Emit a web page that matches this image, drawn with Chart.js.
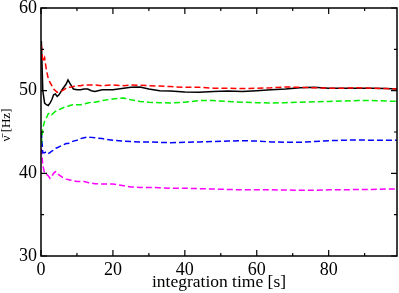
<!DOCTYPE html>
<html><head><meta charset="utf-8">
<script src="https://cdn.jsdelivr.net/npm/chart.js@4/dist/chart.umd.min.js"></script>
<style>html,body{margin:0;padding:0;background:#fff}#wrap{width:399px;height:293px}</style>
</head><body><div id="wrap"><canvas id="c"></canvas></div>
<script>
const times = [0.1,0.5,1,1.5,2,2.5,3,3.5,4,4.5,5,6,7,7.5,8,9,10,11,12,13,14,15,17,20,23,25,27.5,30,33,36,40,44,48,52,56,60,64,68,72,76,80,84,88,92,96,99];
const redVals = [55.5,53.5,54,52.5,51.5,51,50.6,50.2,50,49.8,49.9,50,50.3,50.4,50.4,50.5,50.6,50.6,50.7,50.7,50.7,50.7,50.6,50.7,50.6,50.7,50.65,50.6,50.55,50.5,50.4,50.4,50.3,50.3,50.25,50.3,50.35,50.45,50.4,50.35,50.3,50.3,50.35,50.3,50.25,50.2];
const blackVals = [56,50,48.5,48.3,48.2,48.5,48.9,49.5,49.6,49.3,49.5,50.2,50.8,51.3,50.9,50.2,50.1,50.1,50.2,50.2,50,49.9,50.1,50.1,50.3,50.4,50.45,50.2,50.0,49.95,49.85,49.8,49.9,49.95,49.9,50.0,50.1,50.2,50.35,50.4,50.3,50.3,50.3,50.3,50.25,50.2];
const greenVals = [43.5,45.5,46.3,46.7,47.2,47.3,47.1,47.3,47.5,47.6,47.7,47.9,48.1,48.1,48.2,48.3,48.3,48.3,48.4,48.5,48.6,48.6,48.8,49.0,49.1,48.9,48.7,48.6,48.55,48.5,48.6,48.8,48.8,48.7,48.6,48.55,48.5,48.55,48.6,48.65,48.7,48.75,48.8,48.8,48.75,48.7];
const blueVals = [45,42.5,42.5,42.6,42.4,42.5,42.7,42.8,43.0,43.1,43.2,43.4,43.6,43.6,43.7,43.9,44.0,44.2,44.3,44.4,44.35,44.3,44.2,44.0,43.9,43.85,43.8,43.8,43.75,43.7,43.75,43.8,43.85,43.9,43.95,43.9,43.8,43.75,43.75,43.85,43.95,44.0,44.05,44.0,44.0,44.0];
const magentaVals = [43,41,40,39.9,39.7,39.4,39.6,40.0,40.2,40.1,39.8,39.5,39.3,39.25,39.2,39.1,39.0,39.0,39.0,38.9,38.8,38.75,38.7,38.7,38.5,38.35,38.3,38.3,38.25,38.2,38.2,38.15,38.1,38.05,38.0,38.0,38.0,37.98,37.95,37.95,38.0,38.0,38.05,38.05,38.1,38.1];
const xTicks = [0,20,40,60,80];
const yTicks = [30,40,50,60];
const xMinor = [10,30,50,70,90];
const yMinor = [35,45,55];
const xTitle = 'integration time [s]';
const yTitle = 'ν̄ [Hz]';

function pts(vals){ return times.map((t,i)=>({x:t,y:vals[i]})); }
function ds(vals,color,dashed){
  return {data:pts(vals),borderColor:color,borderWidth:1.5,pointRadius:0,tension:0,fill:false,borderDash:dashed?[6,3]:[]};
}
const framePlugin = {
  id:'frame',
  afterDraw(chart){
    const {ctx,chartArea:a,scales:{x,y}} = chart;
    ctx.save();
    ctx.strokeStyle='#000';
    ctx.lineWidth=1.5;
    ctx.strokeRect(a.left,a.top,a.right-a.left,a.bottom-a.top);
    ctx.lineWidth=1.2;
    ctx.beginPath();
    const tick=(v,len,isX)=>{
      if(isX){const p=x.getPixelForValue(v);ctx.moveTo(p,a.bottom);ctx.lineTo(p,a.bottom-len);ctx.moveTo(p,a.top);ctx.lineTo(p,a.top+len);}
      else{const p=y.getPixelForValue(v);ctx.moveTo(a.left,p);ctx.lineTo(a.left+len,p);ctx.moveTo(a.right,p);ctx.lineTo(a.right-len,p);}
    };
    xTicks.forEach(v=>tick(v,6,true));
    xMinor.forEach(v=>tick(v,3,true));
    yTicks.forEach(v=>tick(v,6,false));
    yMinor.forEach(v=>tick(v,3,false));
    ctx.stroke();
    ctx.fillStyle='#000';
    ctx.font='17.5px "Liberation Serif"';
    ctx.textAlign='center';
    ctx.textBaseline='alphabetic';
    ctx.fillText(xTitle,(a.left+a.right)/2,287);
    ctx.translate(10,125);
    ctx.rotate(-Math.PI/2);
    ctx.font='13px "Liberation Serif"';
    ctx.fillText(yTitle,0,0);
    ctx.restore();
  }
};
new Chart(document.getElementById('c'),{
  type:'line',
  data:{datasets:[
    ds(redVals,'#ff0000',true),
    ds(greenVals,'#00ee00',true),
    ds(blueVals,'#0000ff',true),
    ds(magentaVals,'#ff00ff',true),
    ds(blackVals,'#000000',false)
  ]},
  options:{
    responsive:true,maintainAspectRatio:false,animation:false,
    layout:{padding:{top:8,right:2,left:0,bottom:0}},
    plugins:{legend:{display:false},tooltip:{enabled:false}},
    scales:{
      x:{type:'linear',min:0,max:99,
        ticks:{stepSize:20,includeBounds:false,color:'#000',font:{family:'Liberation Serif',size:18},padding:3,maxRotation:0},
        grid:{display:false,drawTicks:false},border:{display:false},
        afterFit(s){s.height=37;s.paddingLeft=0;s.paddingRight=0;}
      },
      y:{type:'linear',min:30,max:60,
        ticks:{stepSize:10,color:'#000',font:{family:'Liberation Serif',size:18},padding:4},
        grid:{display:false,drawTicks:false},border:{display:false},
        afterFit(s){s.width=41;s.paddingTop=0;s.paddingBottom=0;}
      }
    }
  },
  plugins:[framePlugin]
});
</script></body></html>
